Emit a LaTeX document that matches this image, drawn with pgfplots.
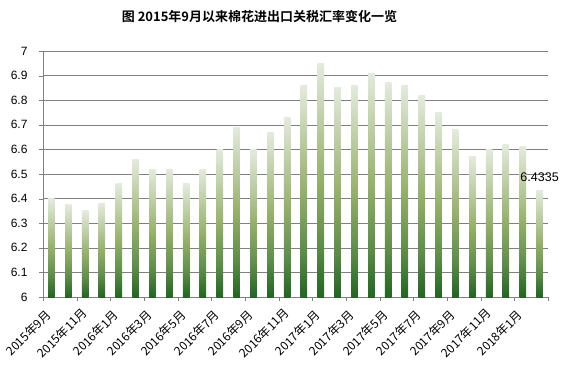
\documentclass[border=0pt]{standalone}
\usepackage{pgfplots}
\pgfplotsset{compat=1.18}
\usepackage{fontspec}
\setmainfont{Liberation Sans}
\newfontfamily\cjk{Noto Sans CJK SC}
\newfontfamily\cjkb{Noto Sans CJK SC Bold}
\definecolor{gdark}{RGB}{36,100,36}
\definecolor{gmid2}{RGB}{95,140,75}
\definecolor{gmid}{RGB}{150,175,108}
\definecolor{glight}{RGB}{228,234,222}
\definecolor{gridc}{RGB}{128,128,128}
\pgfdeclareverticalshading{bargrad}{100bp}{color(0bp)=(gdark); color(25bp)=(gdark); color(36bp)=(gmid2); color(50bp)=(gmid); color(75bp)=(glight); color(100bp)=(glight)}
\begin{document}
\begin{tikzpicture}
\begin{axis}[
  scale only axis,
  width=505pt, height=246pt,
  xmin=0.5, xmax=30.5,
  ymin=6, ymax=7,
  ytick={6,6.1,...,7.01},
  yticklabel style={/pgf/number format/fixed,/pgf/number format/precision=1, font=\fontsize{12}{14}\selectfont, text=black, xshift=-8pt},
  /pgf/number format/assume math mode=true,
  axis x line*=bottom, axis y line*=left,
  axis line style={gridc, -},
  ymajorgrids, major grid style={gridc, line width=0.6pt},
  tick style={gridc},
  tick align=outside,
  xtick={1,3,...,29},
  major x tick style={draw=none},
  minor xtick={0.5,2.5,...,30.5},
  minor tick length=4pt,
  major tick length=4pt,
  xticklabels={2015年9月,2015年11月,2016年1月,2016年3月,2016年5月,2016年7月,2016年9月,2016年11月,2017年1月,2017年3月,2017年5月,2017年7月,2017年9月,2017年11月,2018年1月},
  xticklabel style={font=\cjk\fontsize{12}{14}\selectfont, xshift=-23pt, yshift=-32pt, rotate=45, anchor=center, inner sep=0pt},
  clip=false,
  b/.style={ybar, bar width=6.5pt, bar shift=0pt, draw=none, mark=none, shading=bargrad},
]
\addplot[b] coordinates {(1,6.40)};
\addplot[b] coordinates {(2,6.375)};
\addplot[b] coordinates {(3,6.35)};
\addplot[b] coordinates {(4,6.38)};
\addplot[b] coordinates {(5,6.46)};
\addplot[b] coordinates {(6,6.56)};
\addplot[b] coordinates {(7,6.52)};
\addplot[b] coordinates {(8,6.52)};
\addplot[b] coordinates {(9,6.46)};
\addplot[b] coordinates {(10,6.52)};
\addplot[b] coordinates {(11,6.60)};
\addplot[b] coordinates {(12,6.69)};
\addplot[b] coordinates {(13,6.60)};
\addplot[b] coordinates {(14,6.67)};
\addplot[b] coordinates {(15,6.73)};
\addplot[b] coordinates {(16,6.86)};
\addplot[b] coordinates {(17,6.95)};
\addplot[b] coordinates {(18,6.85)};
\addplot[b] coordinates {(19,6.86)};
\addplot[b] coordinates {(20,6.91)};
\addplot[b] coordinates {(21,6.87)};
\addplot[b] coordinates {(22,6.86)};
\addplot[b] coordinates {(23,6.82)};
\addplot[b] coordinates {(24,6.75)};
\addplot[b] coordinates {(25,6.68)};
\addplot[b] coordinates {(26,6.57)};
\addplot[b] coordinates {(27,6.60)};
\addplot[b] coordinates {(28,6.62)};
\addplot[b] coordinates {(29,6.61)};
\addplot[b, nodes near coords, point meta=explicit symbolic,
  nodes near coords style={font=\fontsize{12.5}{14}\selectfont, anchor=south, yshift=5pt, text=black}]
  coordinates {(30,6.4335) [6.4335]};
\coordinate (bl) at (rel axis cs:0,0);
\coordinate (tr) at (rel axis cs:1,1);
\node[font=\cjkb\fontsize{13}{15}\selectfont, anchor=center] at ([xshift=-36pt,yshift=34pt]rel axis cs:0.5,1) {图 2015年9月以来棉花进出口关税汇率变化一览};
\end{axis}
\path ([shift={(-43pt,-78pt)}]bl) rectangle ([shift={(20pt,51pt)}]tr);
\end{tikzpicture}
\end{document}
